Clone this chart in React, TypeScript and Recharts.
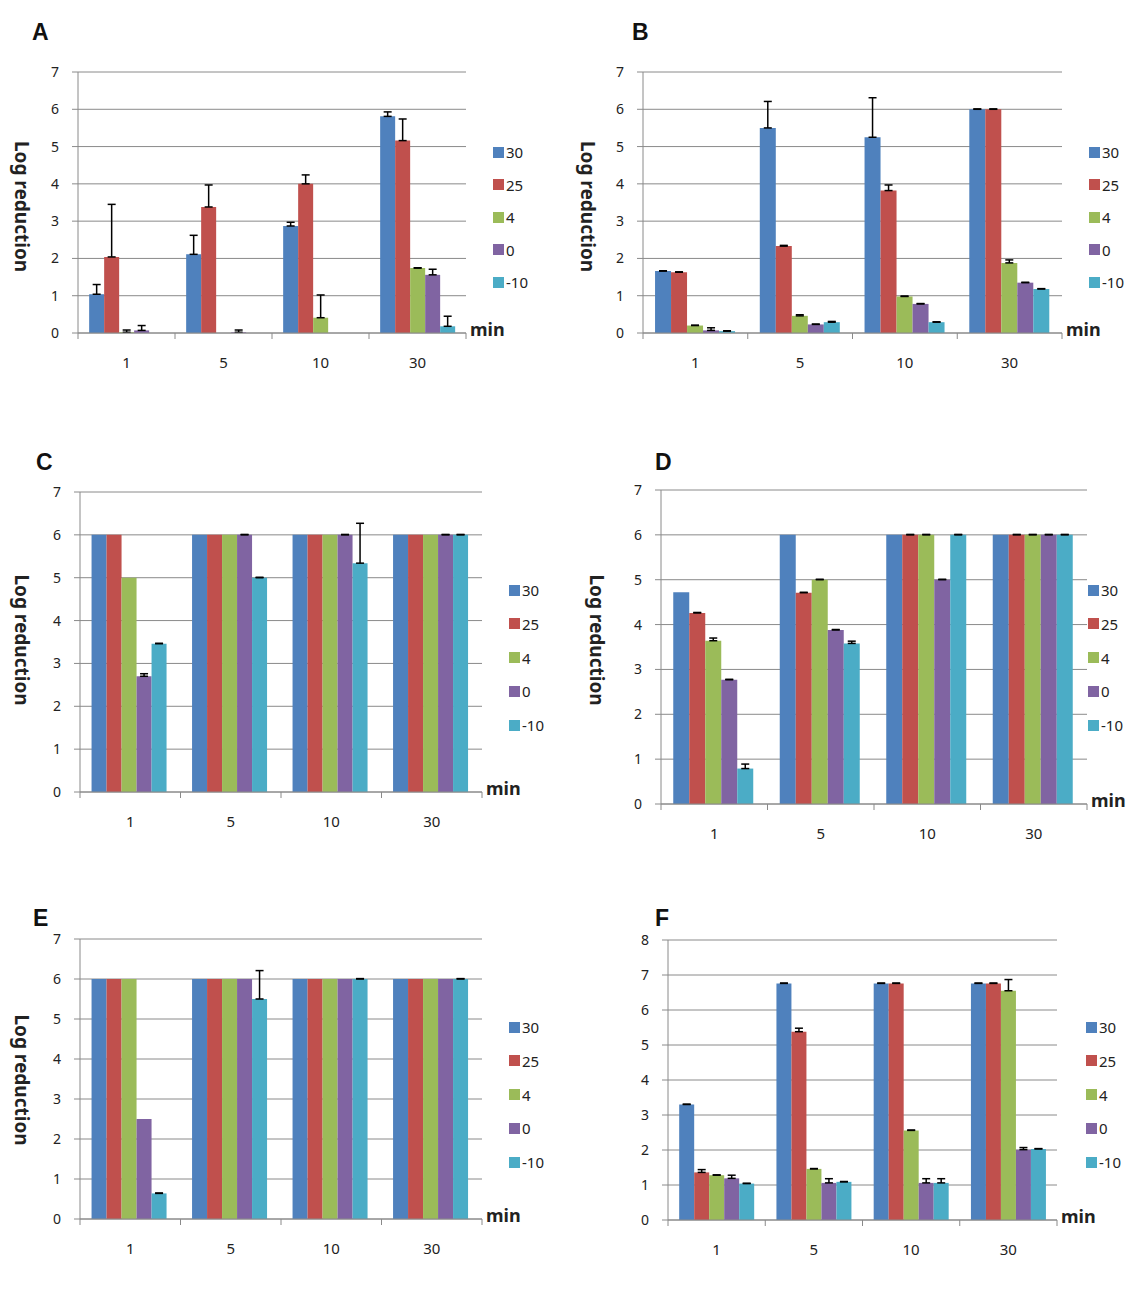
import { BarChart, Bar, XAxis, YAxis, CartesianGrid, ErrorBar, Legend, Label } from 'recharts'

const minutes = ['1', '5', '10', '30']
const temps = ['30', '25', '4', '0', '-10']
const colors = ['#4F81BD', '#C0504D', '#9BBB59', '#8064A2', '#4BACC6']

// rows = temperature (30, 25, 4, 0, -10), cols = minutes (1, 5, 10, 30)
const aMean = [
  [1.04, 2.11, 2.87, 5.81],
  [2.04, 3.38, 4.0, 5.16],
  [0.02, 0, 0.41, 1.74],
  [0.07, 0.02, 0, 1.56],
  [0, 0, 0, 0.18],
]
const aErr = [
  [0.26, 0.51, 0.1, 0.12],
  [1.41, 0.59, 0.24, 0.58],
  [0.06, 0, 0.61, 0.01],
  [0.13, 0.06, 0, 0.15],
  [0, 0, 0, 0.27],
]

const bMean = [
  [1.66, 5.5, 5.25, 6.0],
  [1.63, 2.33, 3.82, 6.0],
  [0.2, 0.46, 0.98, 1.88],
  [0.07, 0.23, 0.78, 1.35],
  [0.05, 0.29, 0.29, 1.18],
]
const bErr = [
  [0.01, 0.71, 1.06, 0.01],
  [0.01, 0.02, 0.15, 0.01],
  [0.01, 0.03, 0.01, 0.08],
  [0.07, 0.01, 0.01, 0.01],
  [0.01, 0.02, 0.01, 0.01],
]

const cMean = [
  [6, 6, 6, 6],
  [6, 6, 6, 6],
  [5.0, 6, 6, 6],
  [2.7, 6, 6, 6],
  [3.46, 5.0, 5.34, 6],
]
const cErr = [
  [0, 0, 0, 0],
  [0, 0, 0, 0],
  [0, 0, 0, 0],
  [0.06, 0.01, 0.01, 0.01],
  [0.01, 0.01, 0.93, 0.01],
]

const dMean = [
  [4.72, 6, 6, 6],
  [4.26, 4.71, 6, 6],
  [3.64, 5.0, 6, 6],
  [2.77, 3.88, 5.0, 6],
  [0.79, 3.58, 6, 6],
]
const dErr = [
  [0, 0, 0, 0],
  [0.01, 0.01, 0.01, 0.01],
  [0.06, 0.01, 0.01, 0.01],
  [0.01, 0.01, 0.01, 0.01],
  [0.1, 0.05, 0.01, 0.01],
]

const eMean = [
  [6, 6, 6, 6],
  [6, 6, 6, 6],
  [6, 6, 6, 6],
  [2.5, 6, 6, 6],
  [0.64, 5.5, 6, 6],
]
const eErr = [
  [0, 0, 0, 0],
  [0, 0, 0, 0],
  [0, 0, 0, 0],
  [0, 0, 0, 0],
  [0.01, 0.71, 0.01, 0.01],
]

const fMean = [
  [3.3, 6.76, 6.76, 6.76],
  [1.36, 5.38, 6.76, 6.76],
  [1.28, 1.46, 2.56, 6.55],
  [1.19, 1.06, 1.06, 2.01],
  [1.04, 1.09, 1.06, 2.03],
]
const fErr = [
  [0.01, 0.01, 0.01, 0.01],
  [0.08, 0.1, 0.01, 0.01],
  [0.01, 0.01, 0.01, 0.32],
  [0.09, 0.12, 0.12, 0.06],
  [0.01, 0.01, 0.12, 0.01],
]

const GRID = '#8A8A8A'
const TEXT = '#222'
const AXIS_W = 90
const TICK_GAP = 24

function buildRows(mean: number[][], err: number[][]) {
  return minutes.map((m, i) => {
    const row: Record<string, unknown> = { minute: m }
    temps.forEach((_, s) => {
      row[`v${s}`] = mean[s][i]
      // one-sided (plus) error bars like the original
      row[`e${s}`] = err[s][i] > 0 ? [0, err[s][i]] : null
    })
    return row
  })
}

interface PanelCfg {
  title: string
  titleX: number
  titleY: number
  mean: number[][]
  err: number[][]
  x0: number
  yTop: number
  y0: number
  x1: number
  max: number
  legX: number
  legY: number
  legStep: number
  yLab?: { dx: number; dy: number }
}

const panels: PanelCfg[] = [
  { title: 'A', titleX: 32, titleY: 40, mean: aMean, err: aErr, x0: 78, yTop: 72, y0: 333, x1: 466, max: 7, legX: 493, legY: 152, legStep: 32.5, yLab: { dx: 34, dy: 4 } },
  { title: 'B', titleX: 632, titleY: 40, mean: bMean, err: bErr, x0: 643, yTop: 72, y0: 333, x1: 1062, max: 7, legX: 1089, legY: 152, legStep: 32.5, yLab: { dx: 35, dy: 4 } },
  { title: 'C', titleX: 36, titleY: 470, mean: cMean, err: cErr, x0: 80, yTop: 492, y0: 792, x1: 482, max: 7, legX: 509, legY: 590, legStep: 33.75, yLab: { dx: 32, dy: -2 } },
  { title: 'D', titleX: 655, titleY: 470, mean: dMean, err: dErr, x0: 661, yTop: 490, y0: 804, x1: 1087, max: 7, legX: 1088, legY: 590, legStep: 33.75, yLab: { dx: 26, dy: -7 } },
  { title: 'E', titleX: 33, titleY: 926, mean: eMean, err: eErr, x0: 80, yTop: 939, y0: 1219, x1: 482, max: 7, legX: 509, legY: 1027, legStep: 33.75, yLab: { dx: 32, dy: 1 } },
  { title: 'F', titleX: 655, titleY: 926, mean: fMean, err: fErr, x0: 668, yTop: 940, y0: 1220, x1: 1057, max: 8, legX: 1086, legY: 1027, legStep: 33.75 },
]

// category label plus Excel-style tick marks on the category boundaries
function CatTick(props: any) {
  const { x, y, payload, index, band } = props
  const axisY = y - TICK_GAP
  const edges = [x - band / 2]
  if (index === minutes.length - 1) edges.push(x + band / 2)
  return (
    <g>
      {edges.map((ex) => (
        <line key={ex} x1={ex} x2={ex} y1={axisY} y2={axisY + 6} stroke={GRID} />
      ))}
      <text x={x} y={y} dy="0.71em" textAnchor="middle" style={{ fontSize: 15, fill: TEXT }}>
        {payload.value}
      </text>
    </g>
  )
}

function Panel({ p }: { p: PanelCfg }) {
  const left = p.x0 - AXIS_W
  const top = p.yTop - 12
  const width = p.x1 + 80 - left
  const height = p.y0 + 50 - top
  const rows = buildRows(p.mean, p.err)
  const ticks = Array.from({ length: p.max + 1 }, (_, i) => i)
  const step = p.legStep
  const band = (p.x1 - p.x0) / minutes.length

  return (
    <div style={{ position: 'absolute', left, top }}>
      <BarChart
        width={width}
        height={height}
        data={rows}
        margin={{ top: 12, right: 80, bottom: 15, left: 0 }}
        barCategoryGap="11.5%"
        barGap={0}
      >
        <CartesianGrid vertical={false} stroke={GRID} />
        <XAxis
          dataKey="minute"
          tickLine={false}
          tickSize={0}
          tickMargin={TICK_GAP}
          axisLine={{ stroke: GRID }}
          height={35}
          interval={0}
          tick={<CatTick band={band} />}
        >
          <Label
            content={(props: any) => {
              const vb = props.viewBox || { x: 0, y: 0, width: 0 }
              return (
                <text
                  x={vb.x + vb.width + 4}
                  y={vb.y - 4}
                  dominantBaseline="central"
                  style={{ fontSize: 18, fontWeight: 'bold', fill: TEXT }}
                >
                  min
                </text>
              )
            }}
          />
        </XAxis>
        <YAxis
          domain={[0, p.max]}
          ticks={ticks}
          interval={0}
          width={AXIS_W}
          tickSize={6}
          tickMargin={13}
          axisLine={{ stroke: GRID }}
          tickLine={{ stroke: GRID }}
          tick={{ fontSize: 14, fill: TEXT }}
          allowDataOverflow
        >
          {p.yLab && (
            <Label
              content={(props: any) => {
                const vb = props.viewBox || { x: 0, y: 0, height: 0 }
                const cx = vb.x + p.yLab!.dx
                const cy = vb.y + vb.height / 2 + p.yLab!.dy
                return (
                  <text
                    x={cx}
                    y={cy}
                    transform={`rotate(90 ${cx} ${cy})`}
                    textAnchor="middle"
                    dominantBaseline="central"
                    style={{ fontSize: 19, fontWeight: 'bold', fill: TEXT }}
                  >
                    Log reduction
                  </text>
                )
              }}
            />
          )}
        </YAxis>
        <Legend
          layout="vertical"
          align="center"
          verticalAlign="middle"
          wrapperStyle={{ left: p.legX - left, top: p.legY - step / 2 - top, width: 60 }}
          content={({ payload }: any) => {
            const items = [...(payload || [])].sort(
              (a: any, b: any) => temps.indexOf(a.value) - temps.indexOf(b.value),
            )
            return (
              <div>
                {items.map((it: any) => (
                  <div key={it.value} style={{ height: step, display: 'flex', alignItems: 'center', fontSize: 15, color: TEXT }}>
                    <span style={{ width: 11, height: 11, background: it.color, marginRight: 2, display: 'inline-block' }} />
                    <span>{it.value}</span>
                  </div>
                ))}
              </div>
            )
          }}
        />
        {temps.map((t, s) => (
          <Bar key={t} dataKey={`v${s}`} name={t} fill={colors[s]} isAnimationActive={false}>
            <ErrorBar dataKey={`e${s}`} direction="y" width={4} stroke="#000" strokeWidth={1.5} />
          </Bar>
        ))}
      </BarChart>
    </div>
  )
}

export default function App() {
  return (
    <div
      style={{
        position: 'absolute',
        left: 0,
        top: 0,
        width: 1135,
        height: 1292,
        background: '#fff',
        fontFamily: '"Noto Sans", "DejaVu Sans", sans-serif',
      }}
    >
      {panels.map((p) => (
        <div key={p.title}>
          <div
            style={{
              position: 'absolute',
              left: p.titleX,
              top: p.titleY - 19,
              fontFamily: '"Liberation Sans", Arial, sans-serif',
              fontWeight: 'bold',
              fontSize: 23,
              lineHeight: '23px',
              color: '#111',
            }}
          >
            {p.title}
          </div>
          <Panel p={p} />
        </div>
      ))}
    </div>
  )
}
